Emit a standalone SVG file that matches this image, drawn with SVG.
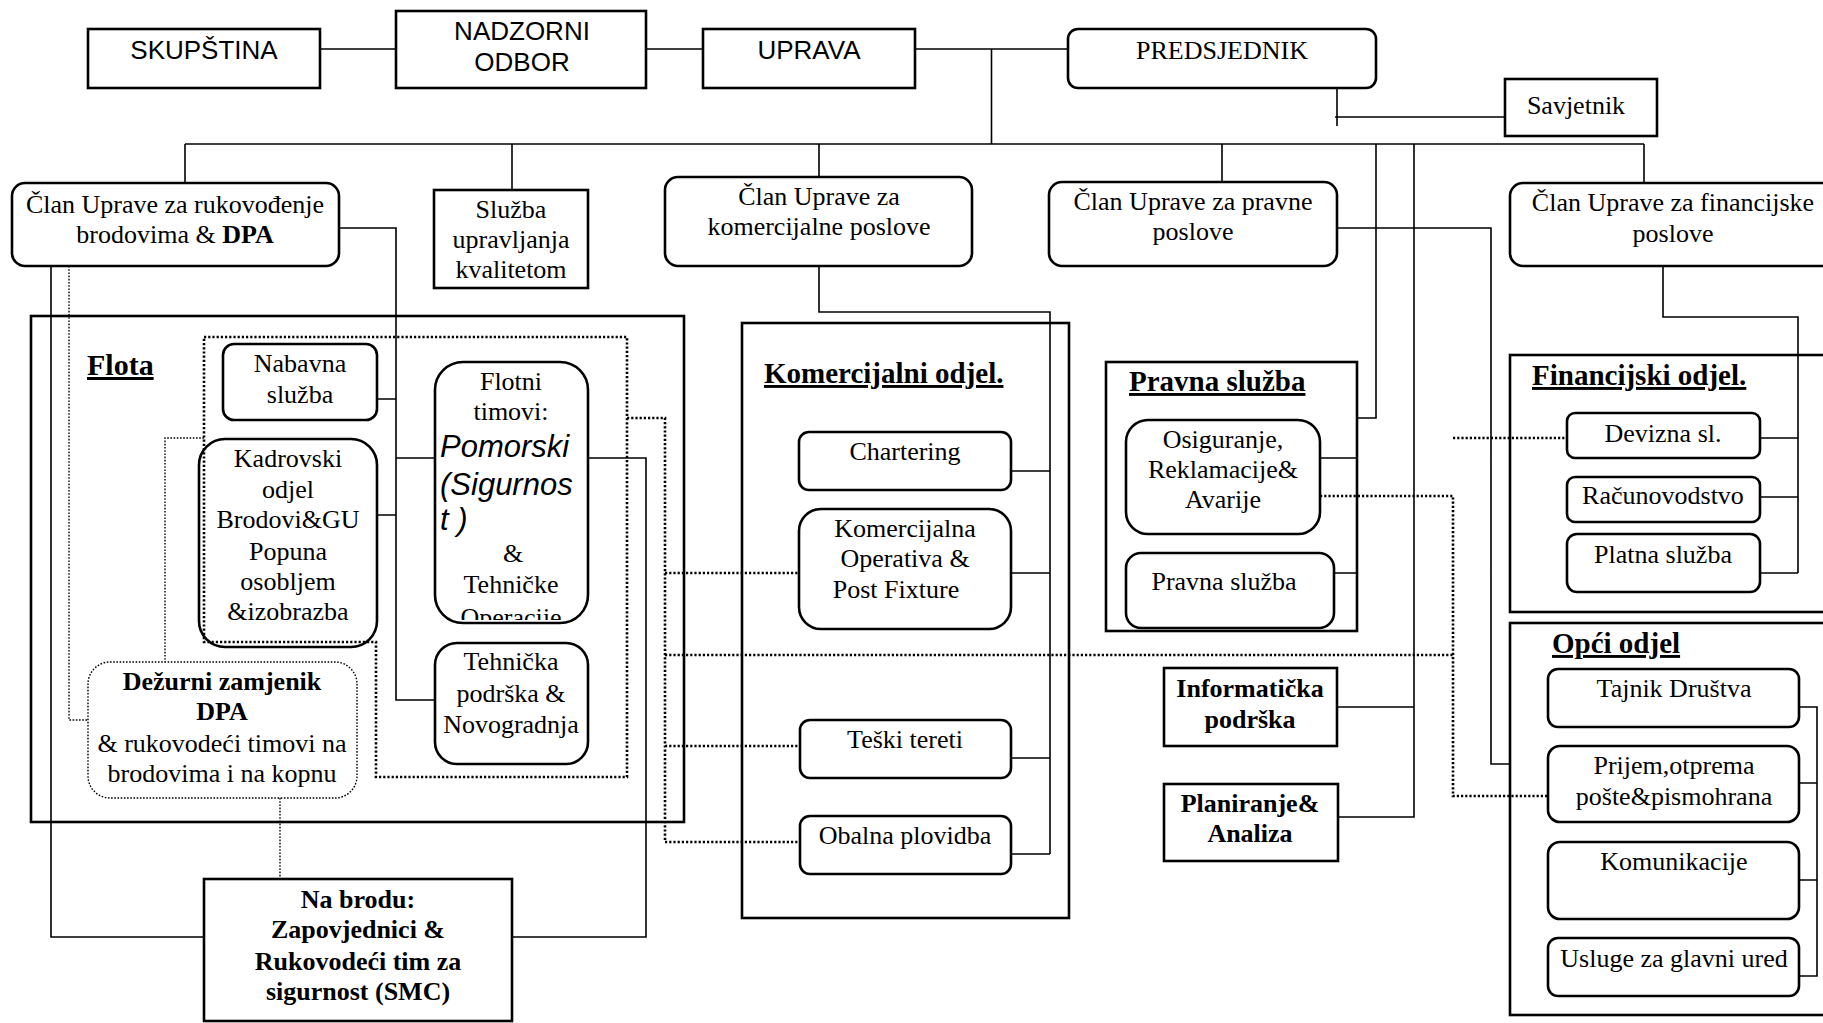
<svg xmlns="http://www.w3.org/2000/svg" width="1823" height="1023" viewBox="0 0 1823 1023">
<defs>
<style>
.box{fill:#fff;stroke:#000;stroke-width:2.6}
.frame{fill:none;stroke:#000;stroke-width:2.6}
.ln{fill:none;stroke:#000;stroke-width:1.6}
.dot{fill:none;stroke:#000;stroke-width:2.6;stroke-dasharray:2.2 2}
.dotthin{fill:none;stroke:#000;stroke-width:1.4;stroke-dasharray:1.6 1.6}
.s{font-family:"Liberation Sans",Arial,sans-serif;font-size:26px;text-anchor:middle}
.t{font-family:"Liberation Serif","Times New Roman",serif;font-size:26px;text-anchor:middle}
.b{font-weight:bold}
.h{font-family:"Liberation Serif","Times New Roman",serif;font-size:29px;font-weight:bold;text-decoration:underline}
.it{font-family:"Liberation Sans",Arial,sans-serif;font-size:31px;font-style:italic}
</style>
<clipPath id="flotClip"><rect x="435" y="362" width="153" height="258"/></clipPath>
</defs>
<rect width="1823" height="1023" fill="#fff"/>

<g id="connectors">
<!-- top row -->
<path class="ln" d="M320 49H396M646 49H703M915 49H1068"/>
<path class="ln" d="M991.5 49V144M185 144H1644"/>
<path class="ln" d="M185 144V183M512 144V190M819 144V177M1222 144V182M1644 144V183"/>
<path class="ln" d="M1337 88V126M1335 117H1505"/>
<path class="ln" d="M1376 144V418H1357M1414 144V817H1338M1338 707H1414"/>
<!-- Flota -->
<path class="ln" d="M339 228H396V700H435M377 399H396M377 515H396M396 458H435"/>
<path class="ln" d="M588 458H646V937H512M51 266V937H204"/>
<!-- Komercijalni -->
<path class="ln" d="M819 266V312H1050V854M1011 471H1050M1011 573H1050M1011 758H1050M1011 854H1050"/>
<!-- Pravne -->
<path class="ln" d="M1337 228H1491V764H1510M1320 458H1357M1334 573H1357"/>
<!-- Financijske -->
<path class="ln" d="M1663 266V317H1798V573M1760 438H1798M1760 497H1798M1760 573H1798"/>
<!-- Opci -->
<path class="ln" d="M1799 707H1817V976H1799M1799 783H1817M1799 880H1817"/>
<!-- dotted -->
<path class="dot" d="M204 337H627V777H376V642H204Z"/>
<path class="dotthin" d="M69 266V720H88M204 438H165V662M280 798V879"/>
<path class="dot" d="M627 418H665V842H800M665 573H799M665 746H800M665 655H1453M1320 496H1453V796H1548M1453 438H1567"/>
</g>

<g id="n-skupstina"><rect class="box" x="88" y="29" width="232" height="59"/><text class="s" x="204" y="59">SKUPŠTINA</text></g>
<g id="n-nadzorni"><rect class="box" x="396" y="11" width="250" height="77"/><text class="s" x="522" y="40">NADZORNI</text><text class="s" x="522" y="71">ODBOR</text></g>
<g id="n-uprava"><rect class="box" x="703" y="29" width="212" height="59"/><text class="s" x="809" y="59">UPRAVA</text></g>
<g id="n-predsjednik"><rect class="box" x="1068" y="29" width="308" height="59" rx="10"/><text class="t" x="1222" y="59">PREDSJEDNIK</text></g>
<g id="n-savjetnik"><rect class="box" x="1505" y="79" width="152" height="57" stroke-width="2"/><text class="t" x="1576" y="114">Savjetnik</text></g>

<g id="n-clan-brod"><rect class="box" x="12" y="183" width="327" height="83" rx="13"/><text class="t" x="175" y="213">Član Uprave za rukovođenje</text><text class="t" x="175" y="243">brodovima  &amp; <tspan class="b">DPA</tspan></text></g>
<g id="n-kvaliteta"><rect class="box" x="434" y="190" width="154" height="98"/><text class="t" x="511" y="218">Služba</text><text class="t" x="511" y="248">upravljanja</text><text class="t" x="511" y="278">kvalitetom</text></g>
<g id="n-clan-kom"><rect class="box" x="665" y="177" width="307" height="89" rx="13"/><text class="t" x="819" y="205">Član Uprave za</text><text class="t" x="819" y="235">komercijalne poslove</text></g>
<g id="n-clan-prav"><rect class="box" x="1049" y="182" width="288" height="84" rx="13"/><text class="t" x="1193" y="210">Član Uprave za pravne</text><text class="t" x="1193" y="240">poslove</text></g>
<g id="n-clan-fin"><rect class="box" x="1510" y="183" width="330" height="83" rx="13"/><text class="t" x="1673" y="211">Član Uprave za financijske</text><text class="t" x="1673" y="242">poslove</text></g>

<g id="n-flota"><rect class="frame" x="31" y="316" width="653" height="506"/><text class="h" x="87" y="375" style="font-size:30px">Flota</text></g>
<g id="n-nabavna"><rect class="box" x="223" y="344" width="154" height="76" rx="11"/><text class="t" x="300" y="372">Nabavna</text><text class="t" x="300" y="403">služba</text></g>
<g id="n-kadrovski"><rect class="frame" x="199" y="439" width="178" height="208" rx="26"/><text class="t" x="288" y="467">Kadrovski</text><text class="t" x="288" y="498">odjel</text><text class="t" x="288" y="528">Brodovi&amp;GU</text><text class="t" x="288" y="560">Popuna</text><text class="t" x="288" y="590">osobljem</text><text class="t" x="288" y="620">&amp;izobrazba</text></g>
<g id="n-flotni"><rect class="box" x="435" y="362" width="153" height="261" rx="28"/><g clip-path="url(#flotClip)"><text class="t" x="511" y="390">Flotni</text><text class="t" x="511" y="420">timovi:</text><text class="it" x="440" y="457">Pomorski</text><text class="it" x="440" y="495">(Sigurnos</text><text class="it" x="440" y="530">t )</text><text class="t" x="513" y="562">&amp;</text><text class="t" x="511" y="593">Tehničke</text><text class="t" x="511" y="626">Operacije</text></g></g>
<g id="n-tehnicka"><rect class="box" x="435" y="643" width="153" height="121" rx="22"/><text class="t" x="511" y="670">Tehnička</text><text class="t" x="511" y="702">podrška &amp;</text><text class="t" x="511" y="733">Novogradnja</text></g>
<g id="n-dezurni"><rect x="88" y="662" width="269" height="136" rx="22" fill="#fff" class="dotthin"/><text class="t b" x="222" y="690">Dežurni zamjenik</text><text class="t b" x="222" y="720">DPA</text><text class="t" x="222" y="752">&amp; rukovodeći timovi na</text><text class="t" x="222" y="782">brodovima i na kopnu</text></g>
<g id="n-nabrodu"><rect class="box" x="204" y="879" width="308" height="142"/><text class="t b" x="358" y="908">Na brodu:</text><text class="t b" x="358" y="938">Zapovjednici &amp;</text><text class="t b" x="358" y="970">Rukovodeći tim za</text><text class="t b" x="358" y="1000">sigurnost (SMC)</text></g>

<g id="n-komercijalni"><rect class="frame" x="742" y="323" width="327" height="595"/><text class="h" x="764" y="383">Komercijalni odjel.</text></g>
<g id="n-chartering"><rect class="box" x="799" y="432" width="212" height="58" rx="10"/><text class="t" x="905" y="460">Chartering</text></g>
<g id="n-komop"><rect class="box" x="799" y="509" width="212" height="120" rx="22"/><text class="t" x="905" y="537">Komercijalna</text><text class="t" x="905" y="567">Operativa &amp;</text><text class="t" x="896" y="598">Post Fixture</text></g>
<g id="n-teski"><rect class="box" x="800" y="720" width="211" height="58" rx="10"/><text class="t" x="905" y="748">Teški tereti</text></g>
<g id="n-obalna"><rect class="box" x="800" y="816" width="211" height="58" rx="10"/><text class="t" x="905" y="844">Obalna plovidba</text></g>

<g id="n-pravna"><rect class="frame" x="1106" y="362" width="251" height="269"/><text class="h" x="1129" y="391">Pravna služba</text></g>
<g id="n-osiguranje"><rect class="box" x="1126" y="420" width="194" height="114" rx="22"/><text class="t" x="1223" y="448">Osiguranje,</text><text class="t" x="1223" y="478">Reklamacije&amp;</text><text class="t" x="1223" y="508">Avarije</text></g>
<g id="n-pravna-sl"><rect class="box" x="1126" y="553" width="208" height="75" rx="15" stroke-width="2"/><text class="t" x="1224" y="590">Pravna služba</text></g>
<g id="n-informaticka"><rect class="box" x="1164" y="668" width="173" height="78"/><text class="t b" x="1250" y="697">Informatička</text><text class="t b" x="1250" y="728">podrška</text></g>
<g id="n-planiranje"><rect class="box" x="1164" y="784" width="174" height="77"/><text class="t b" x="1250" y="812">Planiranje&amp;</text><text class="t b" x="1250" y="842">Analiza</text></g>

<g id="n-financijski"><rect class="frame" x="1510" y="355" width="330" height="257"/><text class="h" x="1532" y="385">Financijski odjel.</text></g>
<g id="n-devizna"><rect class="box" x="1567" y="413" width="193" height="45" rx="8"/><text class="t" x="1663" y="442">Devizna sl.</text></g>
<g id="n-racunovodstvo"><rect class="box" x="1567" y="477" width="193" height="45" rx="8"/><text class="t" x="1663" y="504">Računovodstvo</text></g>
<g id="n-platna"><rect class="box" x="1567" y="534" width="193" height="58" rx="10"/><text class="t" x="1663" y="563">Platna služba</text></g>

<g id="n-opci"><rect class="frame" x="1510" y="623" width="330" height="392"/><text class="h" x="1552" y="653">Opći odjel</text></g>
<g id="n-tajnik"><rect class="box" x="1548" y="669" width="251" height="58" rx="10"/><text class="t" x="1674" y="697">Tajnik Društva</text></g>
<g id="n-prijem"><rect class="box" x="1548" y="746" width="251" height="76" rx="12"/><text class="t" x="1674" y="774">Prijem,otprema</text><text class="t" x="1674" y="805">pošte&amp;pismohrana</text></g>
<g id="n-komunikacije"><rect class="box" x="1548" y="842" width="251" height="77" rx="12"/><text class="t" x="1674" y="870">Komunikacije</text></g>
<g id="n-usluge"><rect class="box" x="1548" y="938" width="251" height="58" rx="10"/><text class="t" x="1674" y="967">Usluge za glavni ured</text></g>
</svg>
